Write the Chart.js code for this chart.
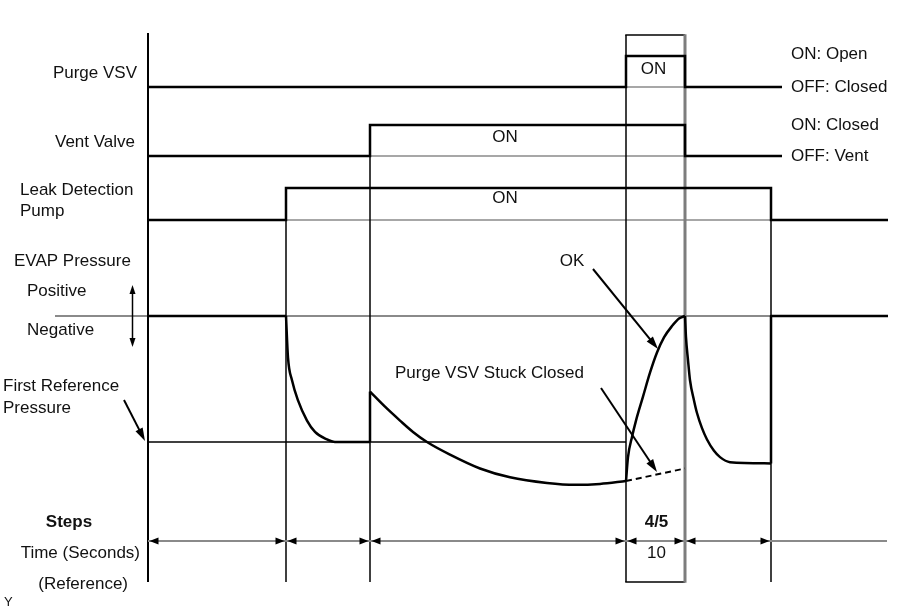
<!DOCTYPE html>
<html>
<head>
<meta charset="utf-8">
<script src="https://cdn.jsdelivr.net/npm/chart.js@4.4.1/dist/chart.umd.min.js"></script>
<style>
html,body{margin:0;padding:0;background:#ffffff;}
canvas{display:block;}
</style>
</head>
<body>
<canvas id="c" width="906" height="610"></canvas>
<script>
// ---------------- DATA ----------------
// event times (time units measured from the start of the diagram)
const eventNames = ['Start', 'Pump ON', 'Vent ON', 'Purge VSV ON', 'Purge VSV OFF', 'Pump OFF', 'End'];
const eventTimes = [0, 138, 222, 478, 537, 623, 740];

// step labels between events
const stepLabels = ['', '', '', '4/5', '', ''];
const stepTimes  = ['', '', '', '10', '', ''];

// digital signals: time of each change and the state after it (0 = OFF, 1 = ON)
const purgeVsvTimes   = [0, 478, 537, 634];
const purgeVsvStates  = [0, 1, 0, 0];
const ventValveTimes  = [0, 222, 537, 634];
const ventValveStates = [0, 1, 0, 0];
const pumpTimes       = [0, 138, 623, 740];
const pumpStates      = [0, 1, 0, 0];

// EVAP pressure relative to atmosphere (first reference pressure = -1)
const pressStartT = [0, 138];
const pressStartV = [0, 0];
const pressDownT  = [138, 140, 144, 150, 159, 167, 179, 187, 222];
const pressDownV  = [0, -0.33, -0.51, -0.67, -0.83, -0.92, -0.98, -1.0, -1.0];
const pressJumpT  = [222, 222];
const pressJumpV  = [-1.0, -0.6];
const pressLeakT  = [222, 237, 252, 265, 279, 302, 332, 362, 399, 427, 452, 478];
const pressLeakV  = [-0.6, -0.72, -0.83, -0.92, -1.0, -1.1, -1.21, -1.28, -1.325, -1.34, -1.333, -1.31];
const pressOkT    = [478, 480, 484, 488, 495, 502, 509, 516, 524, 531, 537];
const pressOkV    = [-1.31, -1.12, -0.96, -0.83, -0.64, -0.45, -0.29, -0.17, -0.08, -0.02, 0];
const pressStuckT = [478, 537];
const pressStuckV = [-1.31, -1.21];
const pressVentT  = [537, 538, 540, 542, 546, 549, 554, 559, 566, 572, 582, 623];
const pressVentV  = [0, -0.17, -0.35, -0.51, -0.67, -0.77, -0.89, -0.98, -1.07, -1.12, -1.16, -1.17];
const pressEndT   = [623, 623, 740];
const pressEndV   = [-1.17, 0, 0];
const firstReferencePressure = -1;

// ---------------- LAYOUT (vertical placement of lanes) ----------------
const lanes = {
  purge: { base: 87,  height: 31 },
  vent:  { base: 156, height: 31 },
  pump:  { base: 220, height: 32 }
};
const pressureLane = { zero: 316, unit: 126 };
const diagramTop = 33, boxTop = 35, diagramBottom = 582, stepsY = 541;

const FONT = '"Liberation Sans", Arial, Helvetica, sans-serif';
const BLACK = '#000000', GRAY = '#8a8a8a';

function laneData(times, states, lane) {
  return times.map((t, i) => ({ x: t, y: lane.base - states[i] * lane.height }));
}
function pressData(times, vals) {
  return times.map((t, i) => ({ x: t, y: pressureLane.zero - vals[i] * pressureLane.unit }));
}
function signalDs(data) {
  return { data, borderColor: BLACK, borderWidth: 2.5, stepped: 'before', pointRadius: 0, fill: false };
}
function curveDs(data, mono, dash) {
  return {
    data, borderColor: BLACK, borderWidth: dash ? 2 : 2.5, pointRadius: 0, fill: false,
    cubicInterpolationMode: mono ? 'monotone' : 'default', tension: 0,
    borderDash: dash ? [6, 4] : [], borderCapStyle: 'butt', borderJoinStyle: 'round'
  };
}

const datasets = [
  signalDs(laneData(purgeVsvTimes, purgeVsvStates, lanes.purge)),
  signalDs(laneData(ventValveTimes, ventValveStates, lanes.vent)),
  signalDs(laneData(pumpTimes, pumpStates, lanes.pump)),
  curveDs(pressData(pressStartT, pressStartV), false),
  curveDs(pressData(pressDownT, pressDownV), true),
  curveDs(pressData(pressJumpT, pressJumpV), false),
  curveDs(pressData(pressLeakT, pressLeakV), true),
  curveDs(pressData(pressOkT, pressOkV), true),
  curveDs(pressData(pressStuckT, pressStuckV), false, true),
  curveDs(pressData(pressVentT, pressVentV), true),
  curveDs(pressData(pressEndT, pressEndV), false)
];

// ---------------- DECORATION PLUGIN ----------------
function line(ctx, x1, y1, x2, y2, color, w) {
  ctx.save(); ctx.strokeStyle = color; ctx.lineWidth = w; ctx.lineCap = 'butt';
  ctx.beginPath(); ctx.moveTo(x1, y1); ctx.lineTo(x2, y2); ctx.stroke(); ctx.restore();
}
function head(ctx, x, y, ang, len, half) {
  ctx.save(); ctx.fillStyle = BLACK; ctx.translate(x, y); ctx.rotate(ang);
  ctx.beginPath(); ctx.moveTo(0, 0); ctx.lineTo(-len, -half); ctx.lineTo(-len, half); ctx.closePath(); ctx.fill();
  ctx.restore();
}
function arrow(ctx, x1, y1, x2, y2, w) {
  const a = Math.atan2(y2 - y1, x2 - x1);
  line(ctx, x1, y1, x2 - Math.cos(a) * 6, y2 - Math.sin(a) * 6, BLACK, w);
  head(ctx, x2, y2, a, 13, 4);
}
function text(ctx, s, x, y, align, bold, size) {
  ctx.save();
  ctx.fillStyle = '#111111';
  ctx.font = (bold ? 'bold ' : '') + (size || 17) + 'px ' + FONT;
  ctx.textAlign = align; ctx.textBaseline = 'middle';
  ctx.fillText(s, x, y);
  ctx.restore();
}

const decor = {
  id: 'decor',
  beforeDatasetsDraw(chart) {
    const ctx = chart.ctx, xs = chart.scales.x, ys = chart.scales.y;
    const X = t => xs.getPixelForValue(t), Y = v => ys.getPixelForValue(v);
    const e = eventTimes;
    const pZero = Y(pressureLane.zero);
    // gray OFF baselines under the ON periods
    line(ctx, X(e[3]), Y(lanes.purge.base), X(e[4]), Y(lanes.purge.base), GRAY, 1.5);
    line(ctx, X(e[2]), Y(lanes.vent.base), X(e[4]), Y(lanes.vent.base), GRAY, 1.5);
    line(ctx, X(e[1]), Y(lanes.pump.base), X(e[5]), Y(lanes.pump.base), GRAY, 1.5);
    // atmospheric (zero) pressure line
    line(ctx, 55, pZero, X(e[0]), pZero, GRAY, 2);
    line(ctx, X(e[1]), pZero, X(e[5]), pZero, GRAY, 2);
    // first reference pressure line
    const pRef = Y(pressureLane.zero - firstReferencePressure * pressureLane.unit);
    line(ctx, X(e[0]), pRef, X(e[3]), pRef, BLACK, 1.5);
    // vertical event lines
    line(ctx, X(e[0]), Y(diagramTop), X(e[0]), Y(diagramBottom), BLACK, 2);
    line(ctx, X(e[1]), Y(lanes.pump.base - lanes.pump.height), X(e[1]), Y(diagramBottom), BLACK, 1.5);
    line(ctx, X(e[2]), Y(lanes.vent.base - lanes.vent.height), X(e[2]), Y(diagramBottom), BLACK, 1.5);
    line(ctx, X(e[5]), Y(lanes.pump.base - lanes.pump.height), X(e[5]), Y(diagramBottom), BLACK, 1.5);
    // step 4/5 box
    line(ctx, X(e[3]), Y(boxTop), X(e[3]), Y(diagramBottom), BLACK, 1.5);
    line(ctx, X(e[3]) - 0.75, Y(boxTop), X(e[4]), Y(boxTop), BLACK, 1.5);
    line(ctx, X(e[3]) - 0.75, Y(diagramBottom), X(e[4]), Y(diagramBottom), BLACK, 1.5);
    line(ctx, X(e[4]), Y(boxTop) - 0.75, X(e[4]), Y(diagramBottom) + 0.75, '#7d7d7d', 3);
    // steps dimension line
    const sy = Y(stepsY);
    line(ctx, X(e[0]), sy, X(e[6]) - 1, sy, GRAY, 2);
    for (let i = 0; i < e.length - 2; i++) {
      head(ctx, X(e[i]) + 1.5, sy, Math.PI, 9, 3.5);
      head(ctx, X(e[i + 1]) - 1.5, sy, 0, 9, 3.5);
    }
  },
  afterDatasetsDraw(chart) {
    const ctx = chart.ctx, xs = chart.scales.x, ys = chart.scales.y;
    const X = t => xs.getPixelForValue(t), Y = v => ys.getPixelForValue(v);
    const e = eventTimes;
    // left labels
    text(ctx, 'Purge VSV', 137, 73, 'right');
    text(ctx, 'Vent Valve', 135, 142, 'right');
    text(ctx, 'Leak Detection', 20, 190, 'left');
    text(ctx, 'Pump', 20, 211, 'left');
    text(ctx, 'EVAP Pressure', 14, 261, 'left');
    text(ctx, 'Positive', 27, 291, 'left');
    text(ctx, 'Negative', 27, 330, 'left');
    text(ctx, 'First Reference', 3, 386, 'left');
    text(ctx, 'Pressure', 3, 408, 'left');
    // positive/negative double arrow
    line(ctx, 132.5, 293, 132.5, 340, BLACK, 1.5);
    head(ctx, 132.5, 285, -Math.PI / 2, 9, 3);
    head(ctx, 132.5, 347, Math.PI / 2, 9, 3);
    // first reference pressure arrow
    arrow(ctx, 124, 400, 145, 441, 2);
    // right labels
    text(ctx, 'ON: Open', 791, 54, 'left');
    text(ctx, 'OFF: Closed', 791, 87, 'left');
    text(ctx, 'ON: Closed', 791, 125, 'left');
    text(ctx, 'OFF: Vent', 791, 156, 'left');
    // ON labels
    text(ctx, 'ON', (X(e[3]) + X(e[4])) / 2 - 2, 69, 'center');
    text(ctx, 'ON', 505, 137, 'center');
    text(ctx, 'ON', 505, 198, 'center');
    // curve annotations
    text(ctx, 'OK', 572, 261, 'center');
    arrow(ctx, 593, 269, 658, 349, 2);
    text(ctx, 'Purge VSV Stuck Closed', 395, 373, 'left');
    arrow(ctx, 601, 388, 657, 472, 2);
    // steps rows
    text(ctx, 'Steps', 69, 522, 'center', true);
    text(ctx, 'Time (Seconds)', 140, 553, 'right');
    text(ctx, '(Reference)', 128, 584, 'right');
    text(ctx, 'Y', 4, 602, 'left', false, 13);
    for (let i = 0; i < stepLabels.length; i++) {
      const cx = (X(e[i]) + X(e[i + 1])) / 2 + 1;
      if (stepLabels[i]) text(ctx, stepLabels[i], cx, 522, 'center', true);
      if (stepTimes[i]) text(ctx, stepTimes[i], cx, 553, 'center');
    }
  }
};

new Chart(document.getElementById('c'), {
  type: 'line',
  data: { datasets },
  options: {
    responsive: false,
    animation: false,
    parsing: true,
    layout: { padding: 0 },
    plugins: { legend: { display: false }, tooltip: { enabled: false } },
    scales: {
      x: { type: 'linear', min: -148, max: 758, display: false },
      y: { type: 'linear', min: 0, max: 610, reverse: true, display: false }
    }
  },
  plugins: [decor]
});
</script>
</body>
</html>
